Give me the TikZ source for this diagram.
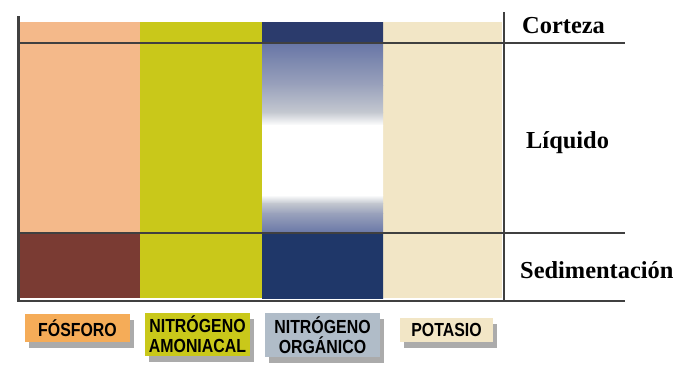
\documentclass[tikz,border=0pt]{standalone}
\usepackage{fontspec}
\setmainfont{Liberation Serif}
\newfontfamily\leyfont[FakeStretch=0.84]{Liberation Sans}
\usetikzlibrary{shadows}
\definecolor{fosforo}{RGB}{244,185,138}
\definecolor{fosforoley}{RGB}{245,172,88}
\definecolor{sedimento}{RGB}{122,59,51}
\definecolor{amoniacal}{RGB}{201,200,26}
\definecolor{organico}{RGB}{43,59,108}
\definecolor{organicob}{RGB}{31,55,105}
\definecolor{organicom}{RGB}{104,118,166}
\definecolor{organicoc}{RGB}{154,162,188}
\definecolor{organicog}{RGB}{196,200,208}
\definecolor{organicoley}{RGB}{176,188,200}
\definecolor{potasio}{RGB}{242,230,198}
\definecolor{linea}{RGB}{64,64,64}
\tikzset{
  capa/.style={font=\bfseries\fontsize{24.5}{25}\selectfont, anchor=base west, inner sep=0pt},
  leyenda/.style={font=\leyfont\bfseries\fontsize{19}{20.5}\selectfont, align=center, inner sep=0pt,
    drop shadow={shadow xshift=4bp, shadow yshift=-6bp, fill=black!60, opacity=0.55}},
  raya/.style={linea, line width=2bp}
}
\begin{document}
\begin{tikzpicture}[x=1bp, y=-1bp]
	\useasboundingbox[fill=white] (0,0) rectangle (673,373);

	% columnas
	\foreach \xa/\xb/\c in {20/140/fosforo, 140/262/amoniacal, 383/502/potasio} {
		\fill[\c] (\xa,22) rectangle (\xb,298);
	}
	\fill[sedimento] (20,233) rectangle (140,298);
	\foreach \ya/\yb/\ct/\cb in {22/43.5/organico/organico, 43/85.5/organicom/organicoc,
		85/112.5/organicoc/organicog, 112/125.5/organicog/white, 125/195.5/white/white,
		195/203.5/white/organicog, 203/213.5/organicog/organicoc, 213/233.5/organicoc/organicom,
		233/298/organicob/organicob} {
		\shade[top color=\ct, bottom color=\cb] (262,\ya) rectangle (383,\yb);
	}

	% lineas
	\coordinate (izqa) at (18,16);
	\coordinate (izqb) at (18,301);
	\coordinate (dera) at (504,12);
	\coordinate (derb) at (504,302);
	\coordinate (corta) at (18,43);
	\coordinate (cortb) at (625,43);
	\coordinate (seda) at (18,233);
	\coordinate (sedb) at (625,233);
	\coordinate (fonda) at (17,301);
	\coordinate (fondb) at (625,301);
	\draw[raya, line width=3bp] (izqa) -- (izqb);
	\draw[raya, line width=2.5bp] (dera) -- (derb);
	\draw[raya] (corta) -- (cortb);
	\draw[raya] (seda) -- (sedb);
	\draw[raya, line width=2.5bp] (fonda) -- (fondb);

	% capas
	\node[capa] (corteza) at (522,33) {Corteza};
	\node[capa] (liquido) at (526,148) {Líquido};
	\node[capa] (sedimentacion) at (520,278) {Sedimentación};

	% leyenda
	\node[leyenda, fill=fosforoley, minimum width=105bp, minimum height=28bp] (lfos) at (77.5,328) {FÓSFORO};
	\node[leyenda, fill=amoniacal, minimum width=105bp, minimum height=43bp] (lamo) at (197.5,334) {NITRÓGENO\\AMONIACAL};
	\node[leyenda, fill=organicoley, minimum width=115bp, minimum height=44bp] (lorg) at (322.5,335) {NITRÓGENO\\ORGÁNICO};
	\node[leyenda, fill=potasio, minimum width=93bp, minimum height=24bp] (lpot) at (446.5,330) {POTASIO};
\end{tikzpicture}
\end{document}
